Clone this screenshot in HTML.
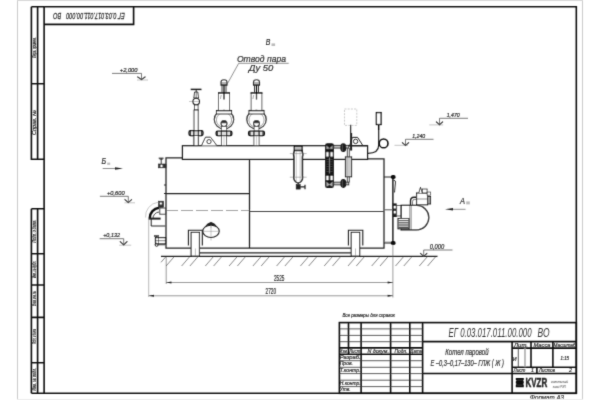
<!DOCTYPE html>
<html><head><meta charset="utf-8">
<style>
html,body{margin:0;padding:0;background:#fff;width:600px;height:400px;overflow:hidden}
svg{display:block;will-change:transform}
text{font-family:"Liberation Sans",sans-serif;font-style:italic;fill:#333;stroke:#333;stroke-width:0.22}
</style></head><body>
<svg width="600" height="400" viewBox="0 0 600 400">
<defs><filter id="bl" x="0" y="0" width="600" height="400" filterUnits="userSpaceOnUse" primitiveUnits="userSpaceOnUse"><feConvolveMatrix order="3" kernelMatrix="0.0144 0.0912 0.0144 0.0912 0.5776 0.0912 0.0144 0.0912 0.0144" divisor="1" edgeMode="duplicate" preserveAlpha="false"/></filter></defs>
<rect width="600" height="400" fill="#fff"/>
<g filter="url(#bl)">
<!-- page edges -->
<g fill="none" stroke="#ccc" stroke-width="1">
<line x1="17.5" y1="0" x2="17.5" y2="400"/>
<line x1="582.5" y1="0" x2="582.5" y2="400"/>
<line x1="17" y1="0.5" x2="583" y2="0.5" stroke="#d8d8d8"/>
</g>
<!-- main frame -->
<g fill="none" stroke="#111" stroke-width="1.6">
<path d="M44.1 6.7 H576.3 V393.3 H31.4"/>
<line x1="44.1" y1="6.7" x2="44.1" y2="393.3"/>
<!-- left strips -->
<path d="M31.4 6.7 H44.1 M31.4 6.7 V159.2 H44.1 M37.6 6.7 V159.2 M31.4 83.75 H44.1"/>
<path d="M31.4 208.75 H44.1 M31.4 208.75 V393.3 M37.6 208.75 V393.3 M31.4 253.75 H44.1 M31.4 285 H44.1 M31.4 317.4 H44.1 M31.4 362.8 H44.1"/>
<!-- top stamp -->
<path d="M44.1 24.4 H133.6 V6.7"/>
</g>
<!-- left strip texts (rotated) -->
<g font-size="4.6" fill="#666" style="stroke-width:0.1;stroke:#777">
<text transform="translate(36.1,58) rotate(-90)" textLength="20.5" lengthAdjust="spacingAndGlyphs">Перв. примен.</text>
<text transform="translate(36.1,135) rotate(-90)" textLength="25" lengthAdjust="spacingAndGlyphs">Справ. №</text>
<text transform="translate(36.1,242.5) rotate(-90)" textLength="22" lengthAdjust="spacingAndGlyphs">Подп. и дата</text>
<text transform="translate(36.1,278) rotate(-90)" textLength="17" lengthAdjust="spacingAndGlyphs">Инв. № дубл.</text>
<text transform="translate(36.1,306) rotate(-90)" textLength="15" lengthAdjust="spacingAndGlyphs">Взам. инв. №</text>
<text transform="translate(36.1,344) rotate(-90)" textLength="15" lengthAdjust="spacingAndGlyphs">Подп. и дата</text>
<text transform="translate(36.1,390.6) rotate(-90)" textLength="22.6" lengthAdjust="spacingAndGlyphs">Инв. № подл.</text>
</g>
<text transform="translate(124.8,12.6) rotate(180)" font-size="9.2" textLength="58.6" lengthAdjust="spacingAndGlyphs" fill="#333" style="stroke-width:0.3">ЕГ 0.03.017.011.00.000</text>
<text transform="translate(61.2,12.6) rotate(180)" font-size="9.2" textLength="8" lengthAdjust="spacingAndGlyphs" fill="#333" style="stroke-width:0.3">ВО</text>

<!-- TITLE BLOCK -->
<g fill="none" stroke="#111" stroke-width="1.6">
<rect x="339.4" y="322.6" width="236.9" height="70.7"/>
<line x1="348.5" y1="322.6" x2="348.5" y2="354.2"/>
<line x1="361.1" y1="322.6" x2="361.1" y2="393.3"/>
<line x1="390.6" y1="322.6" x2="390.6" y2="393.3"/>
<line x1="409.8" y1="322.6" x2="409.8" y2="393.3"/>
<line x1="422.6" y1="322.6" x2="422.6" y2="393.3"/>
<line x1="339.4" y1="347.9" x2="422.6" y2="347.9"/>
<line x1="339.4" y1="354.2" x2="422.6" y2="354.2"/>
<line x1="422.6" y1="341.6" x2="576.3" y2="341.6"/>
<line x1="422.6" y1="373.5" x2="576.3" y2="373.5"/>
<line x1="512.1" y1="341.6" x2="512.1" y2="393.3"/>
<line x1="531" y1="341.6" x2="531" y2="367.3"/>
<line x1="552.9" y1="341.6" x2="552.9" y2="367.3"/>
<line x1="512.1" y1="348.1" x2="576.3" y2="348.1"/>
<line x1="512.1" y1="367.3" x2="576.3" y2="367.3"/>
<line x1="536.9" y1="367.3" x2="536.9" y2="373.5"/>
</g>
<g fill="none" stroke="#333" stroke-width="0.8">
<line x1="339.4" y1="328.9" x2="422.6" y2="328.9"/>
<line x1="339.4" y1="335.4" x2="422.6" y2="335.4"/>
<line x1="339.4" y1="341.7" x2="422.6" y2="341.7"/>
<line x1="339.4" y1="360.7" x2="422.6" y2="360.7"/>
<line x1="339.4" y1="367.3" x2="422.6" y2="367.3"/>
<line x1="339.4" y1="373.6" x2="422.6" y2="373.6"/>
<line x1="339.4" y1="380.2" x2="422.6" y2="380.2"/>
<line x1="339.4" y1="386.6" x2="422.6" y2="386.6"/>
<line x1="518.3" y1="348.1" x2="518.3" y2="367.3"/>
<line x1="525" y1="348.1" x2="525" y2="367.3" stroke="#999" stroke-width="1.3"/>
</g>
<g font-size="5.3" fill="#333">
<text x="339.6" y="353.2" textLength="8.3" lengthAdjust="spacingAndGlyphs">Изм.</text>
<text x="349.2" y="353.2" textLength="11" lengthAdjust="spacingAndGlyphs">Лист</text>
<text x="367.4" y="353.2" textLength="21.5" lengthAdjust="spacingAndGlyphs">N докум.</text>
<text x="394.6" y="353.2" textLength="12.9" lengthAdjust="spacingAndGlyphs">Подп.</text>
<text x="410.3" y="353.2" textLength="11.7" lengthAdjust="spacingAndGlyphs">Дата</text>
<text x="339.7" y="359.1" textLength="21" lengthAdjust="spacingAndGlyphs">Разраб.</text>
<text x="339.7" y="365.2" textLength="13.3" lengthAdjust="spacingAndGlyphs">Пров.</text>
<text x="339.7" y="371.7" textLength="21" lengthAdjust="spacingAndGlyphs">Т.контр.</text>
<text x="339.7" y="384.7" textLength="21" lengthAdjust="spacingAndGlyphs">Н.контр.</text>
<text x="339.7" y="391.2" textLength="11" lengthAdjust="spacingAndGlyphs">Утв.</text>
<text x="514" y="346.8" textLength="14" lengthAdjust="spacingAndGlyphs">Лит.</text>
<text x="533.5" y="346.8" textLength="17" lengthAdjust="spacingAndGlyphs">Масса</text>
<text x="553.6" y="346.8" textLength="22" lengthAdjust="spacingAndGlyphs">Масштаб</text>
<text x="513.5" y="372.2" textLength="12" lengthAdjust="spacingAndGlyphs">Лист</text>
<text x="531" y="372.2">1</text>
<text x="539" y="372.2" textLength="16" lengthAdjust="spacingAndGlyphs">Листов</text>
<text x="569" y="372.2">2</text>
<text x="512.8" y="360.5">И</text>
<text x="560.5" y="360" textLength="8.5" lengthAdjust="spacingAndGlyphs">1:15</text>
</g>
<text x="448.5" y="337" font-size="12.6" textLength="83" lengthAdjust="spacingAndGlyphs" fill="#333" style="stroke-width:0">ЕГ 0.03.017.011.00.000</text>
<text x="537.6" y="337" font-size="12.6" textLength="12" lengthAdjust="spacingAndGlyphs" fill="#333" style="stroke-width:0">ВО</text>
<text x="445.3" y="354.7" font-size="8.3" textLength="43.2" lengthAdjust="spacingAndGlyphs" fill="#333">Котел паровой</text>
<text x="430.6" y="366.2" font-size="8.3" textLength="73.3" lengthAdjust="spacingAndGlyphs" fill="#333">Е –0,3–0,17–130– ГЛЖ ( Ж )</text>
<text x="342.4" y="316.8" font-size="5.6" textLength="52.5" lengthAdjust="spacingAndGlyphs" fill="#333">Все размеры для справок</text>
<text x="530" y="399.9" font-size="7" textLength="34" lengthAdjust="spacingAndGlyphs" fill="#444">Формат А3</text>
<line x1="17" y1="399.5" x2="583" y2="399.5" stroke="#eee" stroke-width="1"/>
<!-- logo -->
<path d="M515.8 378 H523.8 V379.8 L523 380.6 L523.8 381.4 V383.2 L523 384 L523.8 384.8 V387.3 H515.8 V384.8 L516.6 384 L515.8 383.2 V381.4 L516.6 380.6 L515.8 379.8 Z" fill="#111"/>
<path d="M517.2 380.2 H522.4 M517.2 385.1 H522.4" stroke="#555" stroke-width="0.5"/>
<text x="525.4" y="387.3" font-size="13.2" font-weight="bold" textLength="21.8" lengthAdjust="spacingAndGlyphs" fill="#111" style="font-style:normal;stroke:#111;stroke-width:0.5">KVZR</text>
<text x="551.3" y="382.8" font-size="4.4" fill="#666" textLength="16.8" lengthAdjust="spacingAndGlyphs" style="stroke-width:0">котельный</text>
<text x="552.8" y="387.5" font-size="4.4" fill="#666" textLength="12.8" lengthAdjust="spacingAndGlyphs" style="stroke-width:0">завод РЭП</text>

<!-- ===== MAIN DRAWING ===== -->
<defs>
<g id="sv">
 <!-- safety valve, centered at x=0 -->
 <path d="M-3 85.2 V82.3 A3 2.6 0 0 1 3 82.3 V85.2 Z" fill="#fff" stroke="#222" stroke-width="1.1"/>
 <path d="M-3 83 H3 M-3 84.5 H3" stroke="#222" stroke-width="0.7"/>
 <path d="M-2 85.2 V92.5 M2 85.2 V92.5" stroke="#222" stroke-width="0.9"/>
 <rect x="-5.4" y="93" width="10.8" height="17.6" fill="#fff" stroke="#333" stroke-width="0.8"/>
 <path d="M-6 93 H6" stroke="#111" stroke-width="1.3"/>
 <path d="M0 85 V99.5" stroke="#111" stroke-width="1.3"/>
 <path d="M-2.8 95 L-3.6 99" stroke="#555" stroke-width="0.5"/>
 <ellipse cx="0" cy="119.6" rx="9.7" ry="9.3" fill="#fff" stroke="#222" stroke-width="1.2"/>
 <ellipse cx="0" cy="120" rx="7.6" ry="7.4" fill="none" stroke="#666" stroke-width="0.6"/>
 <rect x="-7.6" y="110.6" width="15.2" height="3.4" fill="#fff" stroke="#222" stroke-width="0.9"/>
 <path d="M-7.6 110.6 H7.6" stroke="#111" stroke-width="1.3"/>
 <circle cx="0" cy="123.6" r="3" fill="#fff" stroke="#222" stroke-width="1.1"/>
 <path d="M-3 123.3 A3 3 0 0 1 3 123.3 Z" fill="#333"/>
 <rect x="-2.4" y="126.5" width="4.8" height="4.5" fill="#fff" stroke="#333" stroke-width="0.7"/>
 <rect x="-7.9" y="131.2" width="15.8" height="4.5" rx="1.6" fill="#ddd" stroke="#111" stroke-width="1.3"/>
 <path d="M-6.6 131.6 V135.3 M6.6 131.6 V135.3 M-2.6 131.6 V135.3 M2.6 131.6 V135.3" stroke="#111" stroke-width="1.2"/>
 <rect x="-2.6" y="135.8" width="5.2" height="9.8" fill="#fff" stroke="#333" stroke-width="0.8"/>
 <path d="M0 136 V145" stroke="#888" stroke-width="0.4"/>
</g>
</defs>
<g fill="none" stroke="#222" stroke-width="1.25">
 <!-- header -->
 <rect x="182.4" y="145.7" width="185.2" height="13.7"/>
 <!-- body -->
 <path d="M182.4 157.8 H166 V248 H191.1 M199.4 248 H351.2 M359.7 248 H384 V158.9 H367.6"/>
 <line x1="249.5" y1="159" x2="249.5" y2="248"/>
 <line x1="166" y1="193.5" x2="249.5" y2="193.5"/>
 <line x1="249.5" y1="211.5" x2="384" y2="211.5" stroke="#444" stroke-width="1.1"/>
 <!-- skid -->
 <line x1="199.4" y1="252.9" x2="351.2" y2="252.9" stroke-width="1.1"/>
 <line x1="161" y1="256.3" x2="437.5" y2="256.3" stroke-width="1.2"/>
</g>
<line x1="166" y1="210.5" x2="249.5" y2="210.5" stroke="#666" stroke-width="0.6" stroke-dasharray="12 3"/>
<!-- hatching -->
<g stroke="#555" stroke-width="0.7">
<line x1="165.6" y1="257" x2="161.0" y2="262.3"/>
<line x1="173.9" y1="257" x2="166.1" y2="266.0"/>
<line x1="189.4" y1="257" x2="181.6" y2="266.0"/>
<line x1="197.7" y1="257" x2="189.9" y2="266.0"/>
<line x1="213.1" y1="257" x2="205.3" y2="266.0"/>
<line x1="221.4" y1="257" x2="213.6" y2="266.0"/>
<line x1="236.9" y1="257" x2="229.1" y2="266.0"/>
<line x1="245.2" y1="257" x2="237.4" y2="266.0"/>
<line x1="260.7" y1="257" x2="252.9" y2="266.0"/>
<line x1="269.0" y1="257" x2="261.2" y2="266.0"/>
<line x1="284.4" y1="257" x2="276.6" y2="266.0"/>
<line x1="292.8" y1="257" x2="284.9" y2="266.0"/>
<line x1="308.2" y1="257" x2="300.4" y2="266.0"/>
<line x1="316.5" y1="257" x2="308.7" y2="266.0"/>
<line x1="332.0" y1="257" x2="324.2" y2="266.0"/>
<line x1="340.3" y1="257" x2="332.5" y2="266.0"/>
<line x1="355.8" y1="257" x2="348.0" y2="266.0"/>
<line x1="364.1" y1="257" x2="356.3" y2="266.0"/>
<line x1="379.5" y1="257" x2="371.7" y2="266.0"/>
<line x1="387.8" y1="257" x2="380.0" y2="266.0"/>
<line x1="403.3" y1="257" x2="395.5" y2="266.0"/>
<line x1="411.6" y1="257" x2="403.8" y2="266.0"/>
<line x1="427.1" y1="257" x2="419.3" y2="266.0"/>
<line x1="435.4" y1="257" x2="427.6" y2="266.0"/>
</g>

<!-- brackets/legs -->
<g fill="#fff" stroke="#222" stroke-width="1.1">
 <path d="M188.4 245.6 V230.3 H202.3 V245.6" fill="none"/>
 <rect x="191.1" y="232.4" width="8.3" height="23.7"/>
 <path d="M348.4 245.4 V230.3 H362.8 V245.4" fill="none"/>
 <rect x="351.2" y="232.4" width="8.5" height="23.7"/>
</g>
<line x1="195.4" y1="248.5" x2="195.4" y2="256" stroke="#777" stroke-width="0.5"/>
<line x1="355.5" y1="248.5" x2="355.5" y2="256" stroke="#777" stroke-width="0.5"/>
<!-- oval hatch -->
<path d="M211 222 V240.5 M203 231.3 H219" stroke="#888" stroke-width="0.5"/>
<ellipse cx="211" cy="231.3" rx="8.25" ry="6.2" fill="none" stroke="#222" stroke-width="1.1"/>
<path d="M204.5 227.5 Q207 223 211 222.1 Q215 223 217.5 227.5 A8.25 6.2 0 0 0 204.5 227.5 Z" fill="#222"/>
<path d="M211 225.2 V228" stroke="#888" stroke-width="0.5"/>

<!-- top fittings -->
<use href="#sv" x="224"/>
<use href="#sv" x="256.5"/>
<!-- manual valve -->
<g stroke="#222" fill="#fff">
 <line x1="190.7" y1="89.4" x2="201.5" y2="89.4" stroke-width="1.5"/>
 <line x1="196.2" y1="89.4" x2="196.2" y2="92" stroke-width="1"/>
 <path d="M194.6 92 H197.8 L198.6 98 H193.8 Z" stroke-width="0.9"/>
 <path d="M196.2 92 V98" stroke-width="0.6"/>
 <line x1="189" y1="101.5" x2="200" y2="101.5" stroke="#777" stroke-width="0.4"/>
 <circle cx="196.2" cy="101.6" r="3.3" stroke-width="1.1" fill="none"/>
 <rect x="194.4" y="105" width="3.7" height="5" stroke-width="0.8"/>
 <rect x="194" y="110" width="4.2" height="35.6" stroke-width="0.9"/>
 <rect x="189" y="130.7" width="14" height="4.9" rx="1.5" fill="#ddd" stroke="#111" stroke-width="1.3"/>
 <path d="M190.4 131.1 V135.2 M201.6 131.1 V135.2 M193.8 131.1 V135.2 M198.4 131.1 V135.2" stroke="#111" stroke-width="1.2"/>
 <rect x="194" y="135.6" width="4.2" height="10" stroke-width="0.8"/>
</g>
<!-- lugs -->
<g fill="#fff" stroke="#222" stroke-width="1">
 <path d="M201.5 145.6 L205.5 137.2 H210.5 L216.9 145.6"/>
 <circle cx="209" cy="141.6" r="2.1"/>
</g>

<!-- left side fittings -->
<g stroke="#222" fill="#fff">
 <line x1="158.7" y1="158.2" x2="163.6" y2="158.2" stroke-width="1.1"/>
 <line x1="161.2" y1="158.2" x2="161.2" y2="164" stroke-width="0.9"/>
 <path d="M159.6 159.5 L162.8 159.5" stroke-width="0.6"/>
 <rect x="158.6" y="164" width="7.4" height="3.8" fill="#333" stroke-width="0.6"/>
 <rect x="160.5" y="164.8" width="2" height="2.2" fill="#fff" stroke="none"/>
 <line x1="164" y1="185" x2="166" y2="185" stroke-width="1.2"/>
 <line x1="164" y1="193.5" x2="166" y2="193.5" stroke-width="1.2"/>
</g>
<g stroke="#222" fill="none">
 <path d="M145.6 217.5 A14 14 0 0 1 158 202.3" stroke="#bbb" stroke-width="0.8"/>
 <path d="M149.8 218 A10.2 10.2 0 0 1 159 207.8" stroke="#111" stroke-width="2.4"/>
 <path d="M153 218.5 A6.5 6.5 0 0 1 159 212" stroke="#222" stroke-width="0.8"/>
 <rect x="158.5" y="201.2" width="5" height="6.2" fill="#333" stroke-width="0.6"/>
 <rect x="159.8" y="202.5" width="2" height="2" fill="#fff" stroke="none"/>
 <rect x="159.8" y="208" width="5.6" height="6.2" fill="#fff" stroke-width="0.9"/>
 <rect x="148.6" y="217.6" width="12" height="2" fill="#222" stroke="none"/>
 <path d="M151.2 218.6 V226 H165.4" stroke-width="1"/>
 <path d="M148.7 218 V297" stroke="#777" stroke-width="0.5"/>
 <path d="M154 236 H159" stroke-width="1.4"/>
 <path d="M156.5 236 V238" stroke-width="0.8"/>
 <rect x="155.5" y="237.6" width="10" height="6.2" fill="#fff" stroke-width="1.2"/>
 <path d="M158.5 237.6 V243.8 M155.5 240.7 H165.5" stroke-width="0.6"/>
 <circle cx="156.6" cy="244.8" r="1.5" stroke-width="1"/>
 <path d="M158 244.8 H165.4" stroke-width="0.8"/>
</g>

<!-- right top devices -->
<g stroke="#222" fill="#fff">
 <!-- cylinder -->
 <rect x="294.3" y="146.3" width="7.8" height="4.3" fill="#bbb" stroke="#111" stroke-width="1.2"/>
 <path d="M294.5 150.6 Q293 153.5 294 157 V175.5 Q293 179.5 296 182 Q298.2 183.5 300.4 182 Q303.4 179.5 302.4 175.5 V157 Q303.4 153.5 301.9 150.6 Z" stroke="#111" stroke-width="1.5"/>
 <path d="M296.3 151 V181.5 M300.1 151 V181.5" stroke="#999" stroke-width="0.5"/>
 <path d="M289.8 153.6 H306.6 M289.8 177.2 H306.6" stroke="#777" stroke-width="0.5"/>
 <path d="M298.2 182.5 V184.5" stroke-width="1"/>
 <rect x="296.2" y="184.5" width="4" height="4.6" fill="#222" stroke-width="0.6"/>
 <path d="M300.2 186.8 H305 M305 184.8 V189.2" stroke-width="1.2"/>
</g>
<!-- water level gauge -->
<g>
 <rect x="325.1" y="143.3" width="8.8" height="44.7" rx="2.2" fill="#161616"/>
 <!-- top -->
 <path d="M326.4 145.6 L329.5 148.3 L332.6 145.6 L332.6 149 L329.5 148.6 L326.4 149 Z" fill="#aaa"/>
 <rect x="326.3" y="152.2" width="2.3" height="4.4" fill="#fff"/>
 <rect x="330.4" y="152.2" width="2.3" height="4.4" fill="#fff"/>
 <!-- rungs -->
 <path d="M326.4 159.4 H332.6 M326.4 161.8 H332.6 M326.4 164.2 H332.6 M326.4 166.6 H332.6 M326.4 169 H332.6 M326.4 171.4 H332.6" stroke="#555" stroke-width="0.6"/>
 <path d="M329.5 157.5 V173.5" stroke="#888" stroke-width="0.8"/>
 <!-- bottom -->
 <rect x="326.3" y="175.8" width="2.3" height="4.2" fill="#fff"/>
 <rect x="330.4" y="175.8" width="2.3" height="4.2" fill="#fff"/>
 <path d="M326.4 181.5 L329.5 184.5 L332.6 181.5 L332.6 186.4 L329.5 184.9 L326.4 186.4 Z" fill="#aaa"/>
</g>
<g stroke="#222" fill="#fff">
 <rect x="333.8" y="145.3" width="15" height="2.8" fill="#bbb" stroke-width="0.8"/>
 <rect x="333.8" y="182.1" width="15" height="2.8" fill="#bbb" stroke-width="0.8"/>
 <path d="M347.3 148 V182.5 M349.3 148 V182.5" stroke-width="0.8"/>
 <ellipse cx="343.3" cy="147.7" rx="3" ry="4.4" fill="#1a1a1a" stroke="none"/>
 <ellipse cx="343.3" cy="183.5" rx="3" ry="4.4" fill="#1a1a1a" stroke="none"/>
 <path d="M342.3 144.5 V151 M342.3 180.3 V186.8" stroke="#777" stroke-width="0.6"/>
 <rect x="345.4" y="156.9" width="6.2" height="19.9" fill="#ccc" stroke-width="1"/>
 <path d="M347 157 V176.8" stroke="#888" stroke-width="0.5"/>
</g>
<!-- phantom box + rod -->
<rect x="344.5" y="109" width="12.3" height="16.4" fill="none" stroke="#aaa" stroke-width="0.6" stroke-dasharray="2 1.2"/>
<g stroke="#222" fill="none">
 <path d="M349.6 145.8 L352.3 137.4 H357.6 L363 145.8" stroke-width="1"/>
 <circle cx="355.6" cy="141.4" r="2.2" stroke-width="0.9"/>
 <path d="M350.7 124.8 V150.5" stroke-width="1.1"/>
 <path d="M351.4 133 V150.5" stroke-width="1.4"/>
 <!-- pressure switch -->
 <rect x="376.4" y="112.6" width="4.7" height="11.9" fill="#fff" stroke="#111" stroke-width="1.3"/>
 <path d="M378.7 124.5 V130" stroke="#111" stroke-width="1.5"/>
 <path d="M378.7 130 V145 Q378.7 153.3 368 153.3" stroke-width="1.2"/>
 <circle cx="383.6" cy="143.4" r="4.4" stroke="#111" stroke-width="1.6"/>
</g>
<line x1="348" y1="145.7" x2="367.6" y2="145.7" stroke="#222" stroke-width="1.25"/>
<!-- door + burner -->
<g stroke="#222" fill="#fff">
 <path d="M384 177 H393 M384 243 H393" stroke-width="1.1"/>
 <path d="M384.5 242 H392.5" stroke="#666" stroke-width="0.6"/>
 <line x1="392.9" y1="176" x2="392.9" y2="244" stroke="#111" stroke-width="1.4"/>
 <rect x="390.8" y="175" width="4.8" height="4" rx="1.8" fill="#111" stroke="none"/>
 <rect x="390.8" y="241" width="4.8" height="4" rx="1.8" fill="#111" stroke="none"/>
 <path d="M393.5 180 Q396.2 180.5 395.4 183 L394.5 192.5" fill="none" stroke-width="0.9"/>
 <line x1="384" y1="209.8" x2="392.9" y2="209.8" stroke="#666" stroke-width="1.1"/>
 <rect x="392.7" y="203.4" width="4" height="13.6" fill="#222" stroke="none"/>
 <rect x="393.8" y="206" width="2" height="2.5" fill="#fff" stroke="none"/>
 <rect x="393.8" y="211" width="2" height="2.5" fill="#fff" stroke="none"/>
 <rect x="396.7" y="205.6" width="4.5" height="10.4" stroke-width="0.8"/>
 <path d="M401.2 205.4 H416.5 A12.2 12.2 0 0 1 416.5 229.8 H401.2 Z" stroke="#111" stroke-width="1.35"/>
 <path d="M409.8 205.4 V229.8 M411.2 205.4 V229.8" stroke-width="0.5"/>
 <rect x="398" y="218.5" width="11" height="10.3" stroke-width="1.1"/>
 <path d="M398.5 220.5 H408.5 M398.5 222.3 H408.5 M398.5 224.1 H408.5 M398.5 225.9 H408.5 M398.5 227.5 H408.5" stroke="#333" stroke-width="0.9"/>
 <path d="M410.5 205.4 V201 Q410.5 197.5 414 197.3 H416.6" fill="none" stroke-width="1.4"/>
 <path d="M412.5 205.4 V201.5 Q412.5 199.5 414.5 199.4 H416.6" fill="none" stroke-width="0.6"/>
 <rect x="416.6" y="193" width="11" height="11.8" stroke-width="1.1"/>
 <rect x="427.4" y="196.5" width="3.2" height="7.5" fill="#999" stroke-width="0.9"/>
 <path d="M418.8 193 L420.5 187.3 L422.3 193" stroke-width="0.9"/>
 <rect x="422.3" y="189" width="4.8" height="4" stroke-width="0.8"/>
 <rect x="427.1" y="192" width="3.3" height="3.2" stroke-width="0.7"/>
 <path d="M416.6 199 H427.4" stroke-width="0.5"/>
</g>

<!-- elevation marks -->
<g stroke="#444" stroke-width="0.7" fill="none">
 <path d="M112 73.4 H141.5 V79.6 M137.4 76.7 L141.5 79.6 L145.4 76.7"/>
 <path d="M99.9 196.3 H128.3 V202.6 M124.6 199.3 L128.3 202.6 L131.9 199.3"/>
 <path d="M99.7 238.7 H123.7 V245 M120 241.3 L123.7 245 L127.3 241.3"/>
 <path d="M468 118.3 H439.5 V124.7 M436 121.6 L439.5 124.7 L443 121.6"/>
 <path d="M433.5 139.3 H405.5 V145.5 M402 142.4 L405.5 145.5 L409 142.4"/>
 <path d="M452.5 250 H423.7 V256.3 M420.2 253.2 L423.7 256.3 L427.2 253.2"/>
</g>
<g stroke="#aaa" stroke-width="0.7">
 <path d="M137 80 H148 M124.5 202.8 H135 M119.2 245.2 H131.2 M429.3 124.9 H443.2 M394.5 145.3 H408"/>
</g>
<g stroke="#444" stroke-width="1.1" fill="none">
 <path d="M137.4 76.7 L141.5 79.6 L145.4 76.7"/>
 <path d="M124.6 199.3 L128.3 202.6 L131.9 199.3"/>
 <path d="M120 241.3 L123.7 245 L127.3 241.3"/>
 <path d="M436 121.6 L439.5 124.7 L443 121.6"/>
 <path d="M402 142.4 L405.5 145.5 L409 142.4"/>
 <path d="M420.2 253.2 L423.7 256.3 L427.2 253.2"/>
</g>
<g font-size="5" fill="#444">
 <text x="119.8" y="71.7" font-size="5.4" textLength="17.6" lengthAdjust="spacingAndGlyphs">+2,000</text>
 <text x="107" y="194.8" font-size="5.8" textLength="17.6" lengthAdjust="spacingAndGlyphs">+0,600</text>
 <text x="103.2" y="236.8" font-size="5.4" textLength="16.8" lengthAdjust="spacingAndGlyphs">+0,132</text>
 <text x="446.7" y="116.9" font-size="5.8" textLength="13" lengthAdjust="spacingAndGlyphs">1,470</text>
 <text x="412.2" y="138.1" font-size="5.8" textLength="13" lengthAdjust="spacingAndGlyphs">1,240</text>
 <text x="429.7" y="248.8" font-size="6.3" textLength="14.5" lengthAdjust="spacingAndGlyphs">0,000</text>
 <text x="273.9" y="280.6" font-size="8.4" fill="#333" textLength="10.5" lengthAdjust="spacingAndGlyphs" font-style="normal" style="font-style:normal">2525</text>
 <text x="265.6" y="294.1" font-size="8.4" fill="#333" textLength="10.5" lengthAdjust="spacingAndGlyphs" font-style="normal" style="font-style:normal">2720</text>
</g>
<!-- dimension lines -->
<g stroke="#555" stroke-width="0.6" fill="none">
 <path d="M166.2 257 V284 M392.9 244 V297.5"/>
 <path d="M166.2 282.5 H392.9 M148.7 295.8 H392.9"/>
</g>
<g fill="#222">
 <path d="M166.2 282.5 L171.5 281.5 V283.5 Z M392.9 282.5 L387.6 281.5 V283.5 Z"/>
 <path d="M148.7 295.8 L154 294.8 V296.8 Z M392.9 295.8 L387.6 294.8 V296.8 Z"/>
</g>
<!-- view arrows -->
<g fill="#222" stroke="#444" stroke-width="0.6">
 <path d="M102.7 168.5 H117"/>
 <path d="M123 168.5 L115 167.2 V169.8 Z" stroke="none"/>
 <path d="M452 209.3 H465.5"/>
 <path d="M445 209.3 L453 208 V210.6 Z" stroke="none"/>
</g>
<g font-size="8.8" fill="#333">
 <text x="101.4" y="164.3" textLength="4.6" lengthAdjust="spacingAndGlyphs">Б</text>
 <text x="460" y="203.6" textLength="5" lengthAdjust="spacingAndGlyphs">А</text>
 <text x="265.8" y="44.8" textLength="4.6" lengthAdjust="spacingAndGlyphs">В</text>
</g>
<g fill="#bbb">
 <rect x="107.2" y="162.6" width="3" height="2.2"/>
 <rect x="466.2" y="201.4" width="3.6" height="3"/>
 <rect x="271.5" y="43.4" width="3.6" height="2.6"/>
</g>
<!-- steam outlet label -->
<g font-size="8.7" fill="#333">
 <text x="236.9" y="62.3" textLength="49.1" lengthAdjust="spacingAndGlyphs">Отвод пара</text>
 <text x="248.7" y="71.2" textLength="24.6" lengthAdjust="spacingAndGlyphs">Ду 50</text>
</g>
<path d="M288.7 63.3 H238.7 L227.4 83.7" stroke="#444" stroke-width="0.6" fill="none"/>

</g>
</svg>
</body></html>
